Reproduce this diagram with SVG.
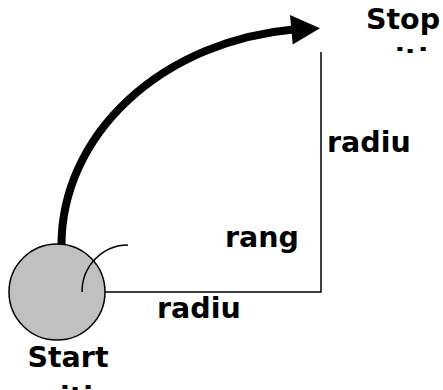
<svg xmlns="http://www.w3.org/2000/svg" width="443" height="390" viewBox="0 0 443 390">
<style>
text{font-family:"DejaVu Sans","Noto Sans",sans-serif;font-weight:bold;font-size:28.5px;fill:#000}
.ln{fill:none;stroke:#000;stroke-width:1.5}
</style>
<defs>
<clipPath id="stopclip"><rect x="340" y="0" width="103" height="53"/></clipPath>
</defs>
<rect width="443" height="390" fill="#fff"/>
<g id="start">
<circle cx="57" cy="292" r="48" fill="#c0c0c0" stroke="#000" stroke-width="1.5"/>
<text x="68" y="367" text-anchor="middle">Start</text>
<text x="68" y="407" text-anchor="middle">position</text>
</g>
<g id="connectors">
<path class="ln" d="M105,292 H321 V52"/>
<path d="M61.5,244.5 A260,217 0 0 1 293,29.5" fill="none" stroke="#000" stroke-width="8"/>
<polygon points="290,15 320,28.3 292.7,44.5" fill="#000"/>
<path class="ln" d="M82,292 A46,47 0 0 1 128,245"/>
</g>
<g id="stop" clip-path="url(#stopclip)">
<text x="403" y="29" text-anchor="middle">Stop</text>
<text x="403" y="69" text-anchor="middle">position</text>
</g>
<g id="labels">
<text x="327" y="152">radiu</text>
<text x="157" y="318">radiu</text>
<text x="225" y="247">rang</text>
</g>
</svg>
